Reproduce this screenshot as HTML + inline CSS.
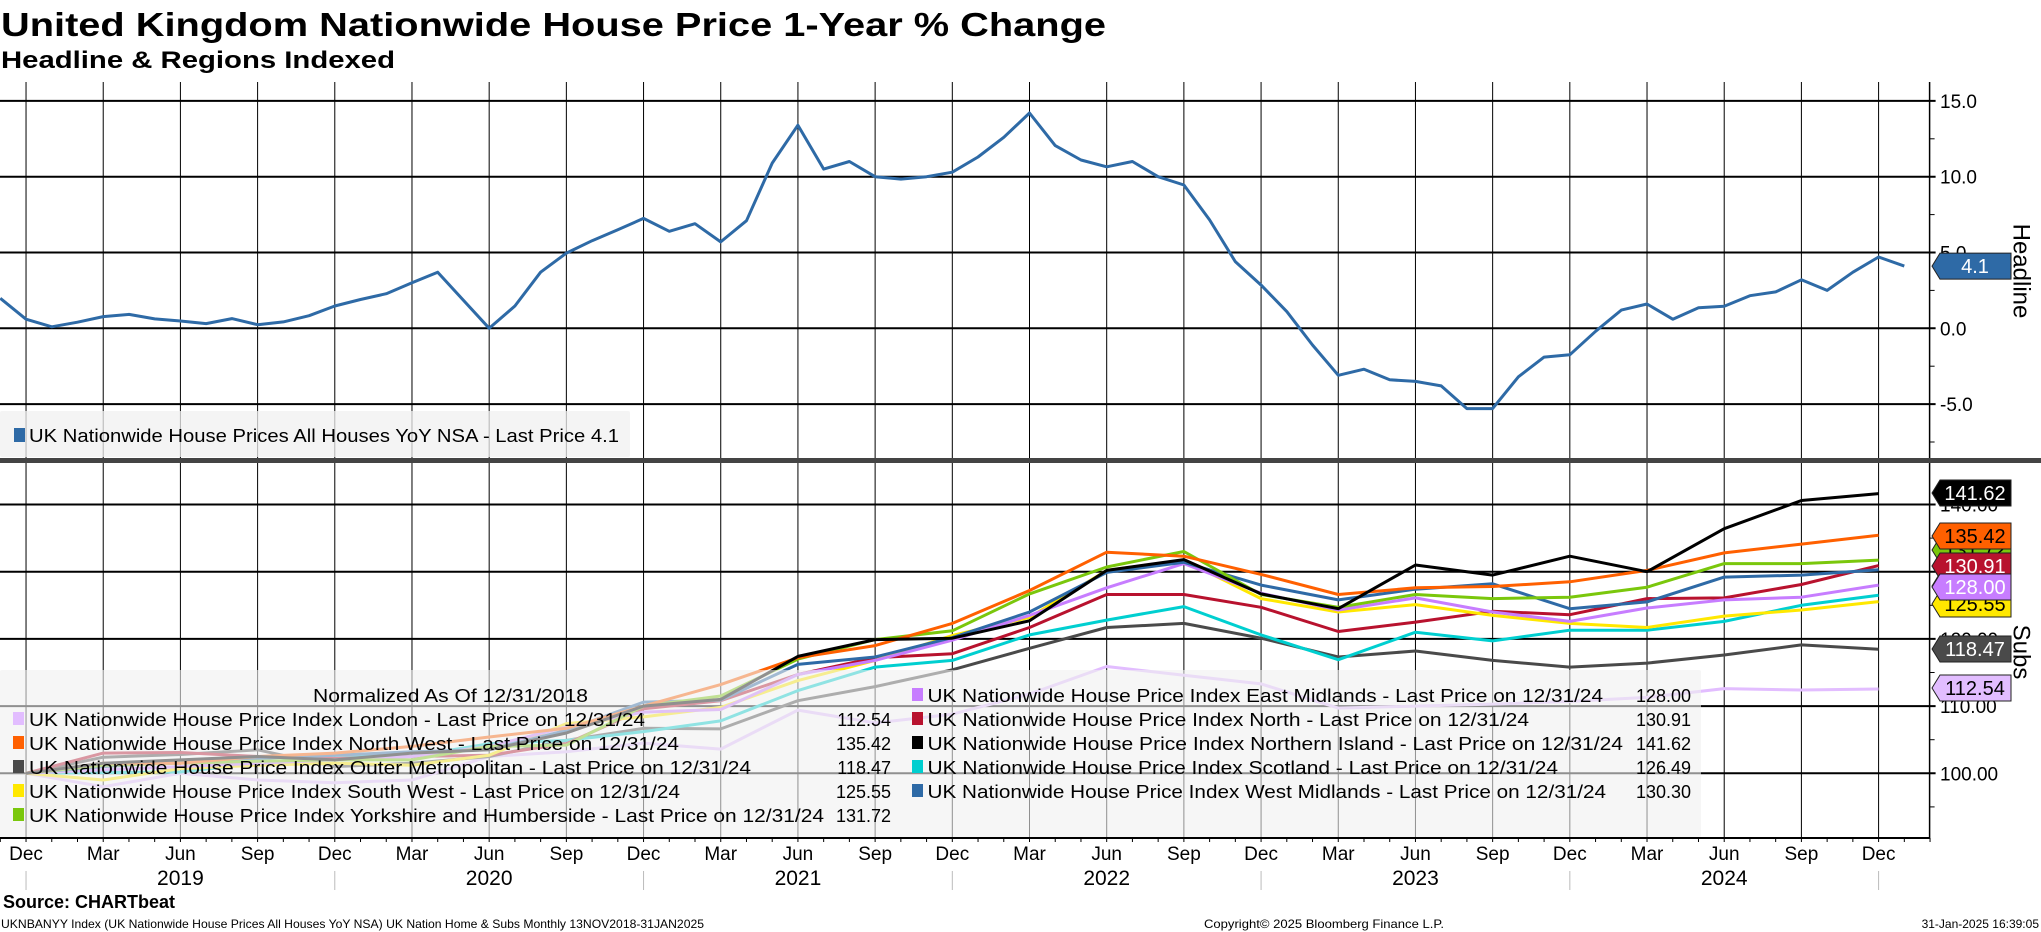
<!DOCTYPE html>
<html><head><meta charset="utf-8">
<style>
html,body{margin:0;padding:0;background:#fff;}
svg{display:block;font-family:"Liberation Sans",sans-serif;}
</style></head>
<body>
<svg id="chart" width="2041" height="932" viewBox="0 0 2041 932" xmlns="http://www.w3.org/2000/svg">
<rect width="2041" height="932" fill="#fff"/>
<text x="1" y="36" font-size="33" font-weight="bold" textLength="1105" lengthAdjust="spacingAndGlyphs">United Kingdom Nationwide House Price 1-Year % Change</text>
<text x="1" y="68" font-size="24" font-weight="bold" textLength="394" lengthAdjust="spacingAndGlyphs">Headline &amp; Regions Indexed</text>
<g id="grid"></g>
<g id="lines"></g>
<g id="overlay"></g>
<text x="3" y="908" font-size="18" font-weight="bold">Source: CHARTbeat</text>
<text x="1" y="928" font-size="12" textLength="703" lengthAdjust="spacingAndGlyphs">UKNBANYY Index (UK Nationwide House Prices All Houses YoY NSA) UK Nation Home &amp; Subs  Monthly 13NOV2018-31JAN2025</text>
<text x="1204" y="928" font-size="12" textLength="240" lengthAdjust="spacingAndGlyphs">Copyright© 2025 Bloomberg Finance L.P.</text>
<text x="2039" y="928" font-size="12" text-anchor="end">31-Jan-2025 16:39:05</text>
</svg>
<script>
const headlineValues = [1.98,0.6,0.1,0.4,0.77,0.92,0.62,0.48,0.31,0.64,0.24,0.42,0.83,1.47,1.9,2.28,3.0,3.7,1.85,0.0,1.47,3.7,4.96,5.78,6.5,7.25,6.4,6.9,5.7,7.1,10.9,13.4,10.5,11.0,10.0,9.84,10.0,10.3,11.3,12.6,14.2,12.05,11.1,10.65,11.0,10.0,9.45,7.15,4.4,2.85,1.1,-1.1,-3.1,-2.7,-3.4,-3.5,-3.8,-5.3,-5.3,-3.2,-1.9,-1.75,-0.2,1.2,1.6,0.6,1.35,1.45,2.15,2.4,3.2,2.5,3.7,4.7,4.1];
const topTicks = [15,10,5,0,-5];
const topTickLabels = ["15.0","10.0","5.0","0.0","-5.0"];
const botTicks = [140,130,120,110,100];
const botTickLabels = ["140.00","130.00","120.00","110.00","100.00"];
const monthLabels = ["Dec","Mar","Jun","Sep","Dec","Mar","Jun","Sep","Dec","Mar","Jun","Sep","Dec","Mar","Jun","Sep","Dec","Mar","Jun","Sep","Dec","Mar","Jun","Sep","Dec"];
const yearLabels = ["2019","2020","2021","2022","2023","2024"];
const london = [100,98.0,100.0,99.0,98.6,99.0,102.5,103.2,104.5,103.6,109.4,107.5,108.8,111.8,115.9,114.6,113.3,109.7,110.0,110.3,110.7,111.3,112.6,112.4,112.54];
const northWest = [100,101.5,101.5,102.5,103.0,104.0,105.4,106.7,110.0,113.2,117.2,119.0,122.3,127.2,132.9,132.3,129.6,126.6,127.6,127.8,128.5,130.2,132.8,134.1,135.42];
const outerMet = [100,102.4,102.8,103.5,101.0,101.5,102.5,104.9,106.7,106.6,110.8,112.9,115.4,118.6,121.7,122.3,120.1,117.3,118.2,116.8,115.8,116.4,117.6,119.1,118.47];
const southWest = [100,99.0,100.7,101.2,101.5,101.2,102.7,107.4,108.4,109.8,113.8,116.8,120.5,123.2,130.2,131.7,126.0,124.0,125.1,123.5,122.3,121.7,123.4,124.3,125.55];
const yorkshire = [100,101.2,101.5,101.8,102.0,102.0,104.0,104.2,110.0,111.5,117.0,119.9,121.2,126.7,130.7,133.0,126.6,124.7,126.6,126.0,126.2,127.7,131.2,131.2,131.72];
const eastMid = [100,100.5,101.0,101.5,102.0,102.5,104.0,106.9,109.1,109.5,114.7,116.8,119.8,123.5,127.6,131.2,126.8,124.3,126.1,124.0,122.6,124.6,125.8,126.2,128.0];
const north = [100,103.0,103.1,102.5,102.2,102.5,102.7,104.4,109.6,110.8,114.7,117.2,117.8,121.7,126.6,126.6,124.7,121.1,122.5,124.1,123.6,126.0,126.1,128.1,130.91];
const nIreland = [100,101.5,102.0,102.5,102.0,103.0,103.5,106.0,110.0,111.0,117.4,119.9,120.1,122.7,130.2,131.8,126.7,124.5,131.0,129.5,132.3,130.0,136.4,140.6,141.62];
const scotland = [100,100.1,100.2,101.5,102.7,102.5,104.4,104.9,106.2,107.8,112.3,115.8,116.8,120.6,122.8,124.8,120.6,116.9,121.0,119.7,121.3,121.3,122.6,125.0,126.49];
const westMid = [100,101.0,101.7,102.2,102.7,103.2,103.5,106.4,110.6,110.9,116.2,117.3,120.2,124.0,129.9,131.4,128.0,125.8,127.4,128.2,124.5,125.5,129.2,129.5,130.30];

const NS="http://www.w3.org/2000/svg";
const X0=0.3, MW=25.73, AXR=1929.6;
function xM(i){return X0+i*MW;}
function xQ(q){return xM(1+3*q);}
function yT(v){return 328.3-v*15.16;}
function yB(v){return 773.3-(v-100)*6.72;}
function mk(parent,tag,attrs,text){const e=document.createElementNS(NS,tag);for(const k in attrs)e.setAttribute(k,attrs[k]);if(text!==undefined)e.textContent=text;parent.appendChild(e);return e;}
const grid=document.getElementById('grid'), lines=document.getElementById('lines'), ov=document.getElementById('overlay');

for(let q=0;q<monthLabels.length;q++){
  const x=xQ(q);
  let g=mk(grid,'line',{x1:x,x2:x,y1:82,y2:458,stroke:'#000','stroke-width':1});
  
  
  g=mk(grid,'line',{x1:x,x2:x,y1:463,y2:838,stroke:'#000','stroke-width':1});
  
  
  const t=mk(grid,'text',{x:x,y:860,'font-size':19,'text-anchor':'middle'},monthLabels[q]);
  
  
  if(monthLabels[q]==='Dec'){
    const s=mk(grid,'line',{x1:x,x2:x,y1:871,y2:890,stroke:'#bbb','stroke-width':1});
    
    
  }
}
for(let i=0;i<yearLabels.length;i++){
  const t=mk(grid,'text',{x:xQ(2+4*i),y:885,'font-size':21,'text-anchor':'middle'},yearLabels[i]);
  
  
}
for(let i=0;i<=75;i++){
  const x=xM(i);
  const tk=mk(grid,'line',{x1:x,x2:x,y1:838,y2:842,stroke:'#000','stroke-width':1});
  
  
}
for(let i=0;i<topTicks.length;i++){
  const y=yT(topTicks[i]);
  const l=mk(grid,'line',{x1:0,x2:AXR+6,y1:y,y2:y,stroke:'#000','stroke-width':2});
  
  
  const t=mk(grid,'text',{x:1940,y:y+7,'font-size':19},topTickLabels[i]);
  
  
  const m=mk(grid,'line',{x1:AXR,x2:AXR+5,y1:yT(topTicks[i]-2.5),y2:yT(topTicks[i]-2.5),stroke:'#000','stroke-width':1});
  
  
}
for(let i=0;i<botTicks.length;i++){
  const y=yB(botTicks[i]);
  const l=mk(grid,'line',{x1:0,x2:AXR+6,y1:y,y2:y,stroke:'#000','stroke-width':2});
  
  
  const t=mk(grid,'text',{x:1940,y:y+7,'font-size':19},botTickLabels[i]);
  
  
  const m=mk(grid,'line',{x1:AXR,x2:AXR+5,y1:yB(botTicks[i]-5),y2:yB(botTicks[i]-5),stroke:'#000','stroke-width':1});
  
  
}
let ax=mk(grid,'line',{x1:AXR,x2:AXR,y1:82,y2:838,stroke:'#000','stroke-width':1.5});


ax=mk(grid,'line',{x1:0,x2:AXR,y1:838,y2:838,stroke:'#000','stroke-width':2});



let hp=headlineValues.map((v,i)=>xM(i).toFixed(1)+','+yT(v).toFixed(1)).join(' ');
let hl=mk(lines,'polyline',{points:hp,fill:'none',stroke:'#2e6aa6','stroke-width':3,'stroke-linejoin':'round'});



const seriesDefs=[
 {d:london,c:'#e2bdff',n:'line-london'},
 {d:outerMet,c:'#4a4a4a',n:'line-outer-metropolitan'},
 {d:scotland,c:'#00cfd0',n:'line-scotland'},
 {d:north,c:'#b8122e',n:'line-north'},
 {d:southWest,c:'#ffe800',n:'line-south-west'},
 {d:eastMid,c:'#c77dff',n:'line-east-midlands'},
 {d:westMid,c:'#2e6aa6',n:'line-west-midlands'},
 {d:yorkshire,c:'#7ac70c',n:'line-yorkshire'},
 {d:northWest,c:'#ff6000',n:'line-north-west'},
 {d:nIreland,c:'#000000',n:'line-northern-ireland'}
];
for(const s of seriesDefs){
  const p=s.d.map((v,q)=>xQ(q).toFixed(1)+','+yB(v).toFixed(1)).join(' ');
  const pl=mk(lines,'polyline',{points:p,fill:'none',stroke:s.c,'stroke-width':3,'stroke-linejoin':'round'});
  
  
}

let sep=mk(ov,'rect',{x:0,y:458,width:2041,height:5,fill:'#444'});



let lg=mk(ov,'rect',{x:0,y:411,width:630,height:46,fill:'rgba(240,240,240,0.75)',rx:2});


let sw=mk(ov,'rect',{x:14,y:428,width:11,height:14,fill:'#2e6aa6'});


let lt=mk(ov,'text',{x:29,y:442,'font-size':18,textLength:590,lengthAdjust:'spacingAndGlyphs'},'UK Nationwide House Prices All Houses YoY NSA - Last Price 4.1');



lg=mk(ov,'rect',{x:0,y:670,width:1701,height:167,fill:'rgba(240,240,240,0.6)',rx:2});


lt=mk(ov,'text',{x:313,y:702,'font-size':18,textLength:275,lengthAdjust:'spacingAndGlyphs'},'Normalized As Of 12/31/2018');


const legRows=[
 [0,0,'#e2bdff','UK Nationwide House Price Index London - Last Price on 12/31/24',645,'112.54'],
 [0,1,'#ff6000','UK Nationwide House Price Index North West - Last Price on 12/31/24',679,'135.42'],
 [0,2,'#4a4a4a','UK Nationwide House Price Index Outer Metropolitan - Last Price on 12/31/24',751,'118.47'],
 [0,3,'#ffe800','UK Nationwide House Price Index South West - Last Price on 12/31/24',680,'125.55'],
 [0,4,'#7ac70c','UK Nationwide House Price Index Yorkshire and Humberside - Last Price on 12/31/24',824,'131.72'],
 [1,-1,'#c77dff','UK Nationwide House Price Index East Midlands - Last Price on 12/31/24',1603,'128.00'],
 [1,0,'#b8122e','UK Nationwide House Price Index North - Last Price on 12/31/24',1529,'130.91'],
 [1,1,'#000000','UK Nationwide House Price Index Northern Island - Last Price on 12/31/24',1623,'141.62'],
 [1,2,'#00cfd0','UK Nationwide House Price Index Scotland - Last Price on 12/31/24',1558,'126.49'],
 [1,3,'#2e6aa6','UK Nationwide House Price Index West Midlands - Last Price on 12/31/24',1606,'130.30']
];
for(const r of legRows){
  const by=726+24*r[1];
  const sx=r[0]?912:13, tx=r[0]?927.5:29, vx=r[0]?1691:891;
  const s=mk(ov,'rect',{x:sx,y:by-14,width:11,height:13,fill:r[2]});
  
  
  const t=mk(ov,'text',{x:tx,y:by,'font-size':18,textLength:(r[4]-tx),lengthAdjust:'spacingAndGlyphs'},r[3]);
  
  
  const v=mk(ov,'text',{x:vx,y:by,'font-size':18,'text-anchor':'end'},r[5]);
  
  
}

let at=mk(ov,'text',{x:2020,y:271,'font-size':24,'text-anchor':'middle',transform:'rotate(90 2020 271)','dominant-baseline':'middle'},'Headline');


at=mk(ov,'text',{x:2020,y:652,'font-size':24,'text-anchor':'middle',transform:'rotate(90 2020 652)','dominant-baseline':'middle'},'Subs');



function tag(yc,fill,txtColor,label,name){
  const g=mk(ov,'g',{});
  
  
  const h=13;
  mk(g,'polygon',{points:`1932,${yc} 1940,${yc-h} 2011,${yc-h} 2011,${yc+h} 1940,${yc+h}`,fill:fill,stroke:'#222','stroke-width':1});
  mk(g,'text',{x:1975,y:yc+7,'font-size':20,'text-anchor':'middle',fill:txtColor},label);
}
tag(yT(headlineValues[headlineValues.length-1]),'#2e6aa6','#fff',headlineValues[headlineValues.length-1].toFixed(1),'headline-last-value-tag');
tag(586,'#00cfd0','#000',scotland[24].toFixed(2),'tag-scotland');
tag(566,'#2e6aa6','#fff',westMid[24].toFixed(2),'tag-west-midlands');
tag(550,'#7ac70c','#000',yorkshire[24].toFixed(2),'tag-yorkshire');
tag(604,'#ffe800','#000',southWest[24].toFixed(2),'tag-south-west');
tag(493,'#000','#fff',nIreland[24].toFixed(2),'tag-northern-ireland');
tag(536,'#ff6000','#000',northWest[24].toFixed(2),'tag-north-west');
tag(566,'#b8122e','#fff',north[24].toFixed(2),'tag-north');
tag(587,'#c77dff','#fff',eastMid[24].toFixed(2),'tag-east-midlands');
tag(649,'#4a4a4a','#fff',outerMet[24].toFixed(2),'tag-outer-metropolitan');
tag(688,'#e2bdff','#000',london[24].toFixed(2),'tag-london');
</script>
</body></html>
